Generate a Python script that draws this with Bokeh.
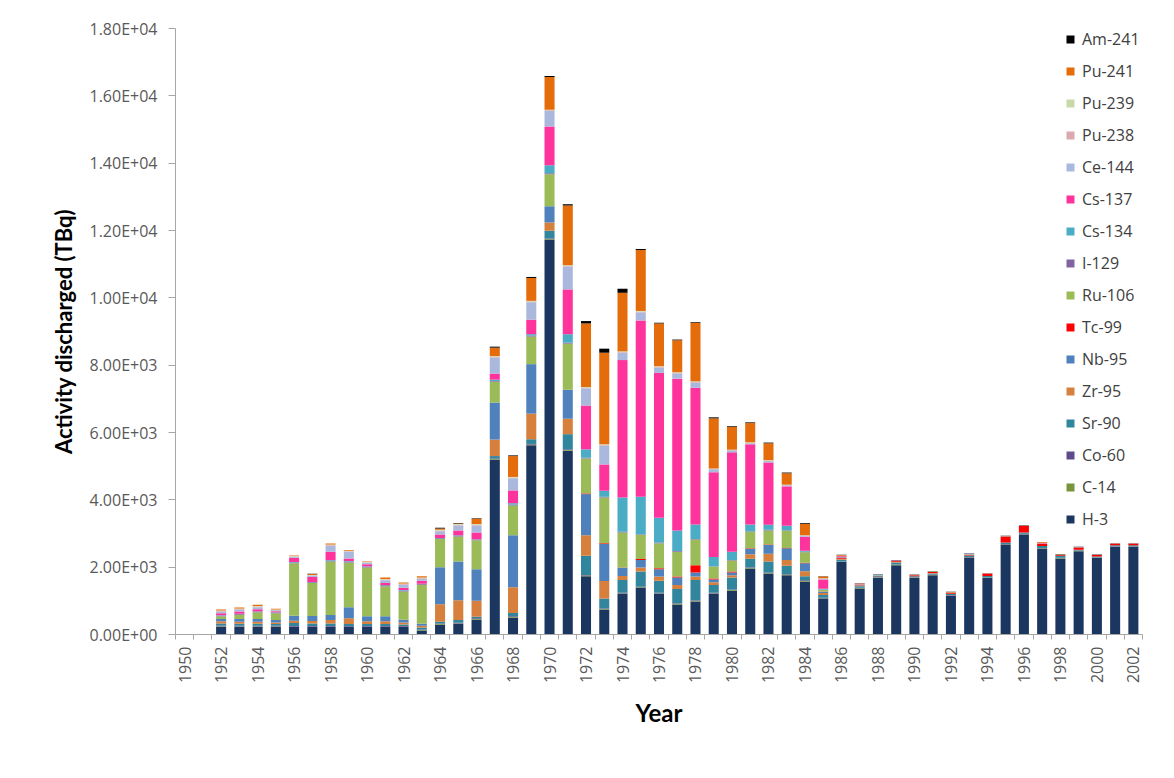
import math
from bokeh.plotting import figure
from bokeh.models import (ColumnDataSource, Range1d, FixedTicker, CustomJSTickFormatter,
                          Legend, LegendItem)
from bokeh.embed import file_html
from bokeh.resources import INLINE

years = list(range(1950, 2003))

H3 = [0, 0, 230, 220, 220, 220, 220, 220, 220, 220, 220, 220, 220, 120, 290, 310, 440,
      5190, 500, 5620, 11720, 5460, 1730, 730, 1200, 1380, 1200, 890, 980,
      1200, 1300, 1960, 1800, 1760, 1570, 1070,
      2150, 1370, 1680, 2060, 1680, 1760, 1150, 2280, 1680, 2670, 2970, 2550, 2260, 2475, 2270, 2600, 2600]
C14 = [0, 0, 15, 15, 15, 15, 10, 10, 10, 10, 10, 10, 10, 10, 20, 20, 20,
       20, 20, 20, 20, 20, 20, 20, 20, 20, 20, 20, 20,
       20, 20, 20, 20, 20, 20, 10,
       10, 10, 10, 10, 10, 10, 10, 10, 10, 10, 10, 10, 10, 10, 10, 10, 10]
Co60 = [0, 0, 25, 25, 25, 25, 20, 20, 20, 20, 20, 20, 20, 20, 20, 20, 20,
        20, 20, 20, 20, 20, 20, 20, 20, 20, 20, 20, 20,
        20, 20, 20, 20, 20, 20, 10,
        10, 10, 10, 10, 10, 10, 10, 10, 10, 10, 10, 10, 10, 10, 10, 10, 10]
Sr90 = [0, 0, 60, 60, 60, 50, 90, 80, 80, 60, 60, 60, 50, 60, 50, 80, 50,
        70, 100, 140, 230, 450, 570, 300, 380, 450, 360, 420, 600,
        230, 350, 250, 330, 240, 120, 80,
        50, 40, 30, 60, 30, 30, 30, 50, 40, 40, 40, 60, 60, 20, 30, 30, 30]
Zr95 = [0, 0, 60, 60, 60, 50, 70, 70, 100, 170, 80, 80, 60, 50, 520, 590, 470,
        490, 760, 760, 250, 460, 610, 520, 120, 120, 120, 120, 100,
        80, 70, 130, 230, 170, 150, 60,
        20, 20, 0, 20, 0, 20, 10, 0, 0, 0, 0, 0, 0, 0, 0, 0, 0]
Nb95 = [0, 0, 70, 80, 80, 70, 150, 150, 150, 330, 150, 150, 80, 60, 1100, 1150, 940,
        1100, 1550, 1470, 480, 860, 1220, 1100, 240, 220, 220, 220, 120,
        80, 80, 170, 260, 350, 240, 40,
        10, 10, 0, 0, 0, 0, 0, 0, 0, 0, 0, 0, 0, 0, 0, 0, 0]
Tc99 = [0, 0, 0, 0, 0, 0, 0, 0, 0, 0, 0, 0, 0, 0, 0, 0, 0,
        0, 0, 0, 0, 0, 20, 20, 10, 30, 30, 30, 220,
        30, 30, 10, 10, 10, 10, 10,
        20, 20, 10, 20, 30, 30, 40, 20, 70, 180, 200, 60, 30, 70, 40, 50, 50]
Ru106 = [0, 0, 80, 130, 200, 200, 1560, 980, 1590, 1330, 1450, 890, 840, 1160, 840, 740, 860,
         620, 880, 820, 950, 1370, 1040, 1360, 1040, 720, 740, 740, 760,
         360, 330, 490, 420, 510, 310, 50,
         20, 10, 10, 10, 10, 10, 10, 10, 10, 10, 10, 10, 10, 10, 10, 10, 10]
I129 = [0, 0, 20, 20, 20, 20, 20, 20, 30, 30, 30, 30, 30, 20, 20, 30, 20,
        20, 30, 30, 30, 30, 20, 20, 20, 20, 20, 20, 20,
        10, 10, 20, 20, 20, 20, 10,
        10, 5, 5, 5, 5, 5, 5, 5, 5, 5, 5, 5, 5, 5, 5, 5, 5]
Cs134 = [0, 0, 10, 10, 10, 10, 10, 10, 10, 10, 10, 10, 10, 10, 10, 10, 10,
         40, 40, 40, 240, 250, 250, 180, 1020, 1110, 740, 610, 430,
         270, 250, 200, 150, 130, 30, 20,
         10, 0, 20, 0, 0, 0, 0, 0, 0, 0, 0, 0, 0, 0, 0, 0, 0]
Cs137 = [0, 0, 60, 60, 60, 30, 130, 150, 250, 80, 60, 60, 70, 90, 100, 140, 200,
         180, 380, 430, 1150, 1330, 1300, 780, 4080, 5240, 4300, 4510, 4060,
         2520, 2950, 2380, 1850, 1170, 410, 270,
         20, 10, 5, 10, 0, 0, 0, 0, 0, 0, 0, 20, 0, 0, 0, 0, 0]
Ce144 = [0, 0, 50, 60, 60, 30, 30, 40, 170, 200, 40, 80, 90, 50, 100, 150, 210,
         480, 360, 520, 460, 680, 510, 560, 220, 240, 160, 150, 150,
         90, 60, 30, 40, 30, 30, 20,
         10, 0, 10, 0, 0, 0, 0, 30, 0, 0, 0, 0, 0, 0, 0, 0, 0]
Pu238 = [0, 0, 20, 20, 20, 10, 10, 10, 20, 10, 10, 20, 20, 20, 20, 20, 20,
         20, 20, 20, 20, 20, 20, 20, 20, 20, 20, 20, 20,
         10, 10, 10, 10, 10, 10, 10,
         0, 0, 0, 0, 0, 0, 0, 0, 0, 0, 0, 0, 0, 0, 0, 0, 0]
Pu239 = [0, 0, 15, 15, 20, 15, 10, 10, 20, 10, 10, 20, 15, 20, 20, 20, 20,
         20, 20, 20, 20, 20, 20, 20, 20, 20, 20, 20, 20,
         10, 10, 20, 20, 10, 10, 10,
         0, 0, 0, 0, 0, 0, 0, 0, 0, 0, 0, 0, 0, 0, 0, 0, 0]
Pu241 = [0, 0, 30, 30, 30, 20, 20, 30, 30, 20, 20, 40, 30, 40, 40, 20, 160,
         250, 620, 680, 970, 1770, 1890, 2720, 1740, 1810, 1270, 950, 1740,
         1490, 680, 570, 500, 340, 340, 50,
         20, 10, 0, 0, 0, 0, 0, 0, 0, 0, 0, 20, 0, 0, 0, 0, 0]
Am241 = [0, 0, 0, 0, 0, 0, 0, 5, 0, 0, 0, 0, 0, 0, 20, 10, 15,
         30, 20, 30, 30, 40, 70, 120, 120, 30, 20, 20, 20,
         30, 20, 20, 20, 20, 20, 10,
         10, 5, 5, 5, 5, 5, 5, 5, 5, 5, 5, 5, 5, 5, 5, 5, 5]

nuclides = ["H-3", "C-14", "Co-60", "Sr-90", "Zr-95", "Nb-95", "Tc-99", "Ru-106",
            "I-129", "Cs-134", "Cs-137", "Ce-144", "Pu-238", "Pu-239", "Pu-241", "Am-241"]
series = [H3, C14, Co60, Sr90, Zr95, Nb95, Tc99, Ru106, I129, Cs134, Cs137, Ce144,
          Pu238, Pu239, Pu241, Am241]
colors = ["#1B365F", "#77933C", "#5F4B8B", "#31859C", "#D7803E", "#4F81BD", "#FF0000",
          "#9BBB59", "#8064A2", "#4BACC6", "#FF339C", "#A9B8DC", "#DDA9B0", "#C8D8A8",
          "#E46C0A", "#000000"]

data = {"year": years}
for n, s in zip(nuclides, series):
    data[n] = s
source = ColumnDataSource(data)

p = figure(width=1170, height=776, output_backend="svg", toolbar_location=None,
           x_range=Range1d(1949.5, 2002.5), y_range=Range1d(0, 18000),
           min_border_left=175, min_border_right=28, min_border_top=28, min_border_bottom=142)
p.outline_line_color = None
p.xgrid.grid_line_color = None
p.ygrid.grid_line_color = None
p.background_fill_color = "white"
p.border_fill_color = "white"

renderers = p.vbar_stack(nuclides, x="year", width=0.55, color=colors, source=source,
                         line_color=None)

tick_font = "Open Sans"
# x axis
xa = p.xaxis[0]
xa.ticker = FixedTicker(ticks=list(range(1950, 2003, 2)),
                        minor_ticks=[y - 0.5 for y in range(1950, 2004)])
xa.major_label_orientation = math.pi / 2
xa.major_tick_line_color = None
xa.major_tick_out = 5
xa.major_tick_in = 0
xa.minor_tick_out = 5
xa.minor_tick_in = 0
xa.minor_tick_line_color = "#A6A6A6"
xa.axis_line_color = "#A6A6A6"
xa.major_label_text_font = tick_font
xa.major_label_text_font_size = "16px"
xa.major_label_text_color = "#595959"
xa.major_label_standoff = 7
xa.axis_label = "Year"
xa.axis_label_text_font = "Lato"
xa.axis_label_text_font_style = "bold"
xa.axis_label_text_font_size = "24px"
xa.axis_label_text_color = "#000000"
xa.axis_label_standoff = 12

# y axis
ya = p.yaxis[0]
ya.ticker = FixedTicker(ticks=list(range(0, 18001, 2000)))
ya.formatter = CustomJSTickFormatter(code="""
    var s = tick.toExponential(2).toUpperCase();
    return s.replace(/E([+-])(\\d)$/, 'E$10$2');
""")
ya.major_tick_out = 7
ya.major_tick_in = 0
ya.minor_tick_line_color = None
ya.major_tick_line_color = "#A6A6A6"
ya.axis_line_color = "#A6A6A6"
ya.major_label_text_font = tick_font
ya.major_label_text_font_size = "16px"
ya.major_label_text_color = "#595959"
ya.major_label_standoff = 11
ya.axis_label = "Activity discharged (TBq)"
ya.axis_label_text_font = "Lato"
ya.axis_label_text_font_style = "bold"
ya.axis_label_text_font_size = "22px"
ya.axis_label_text_color = "#000000"
ya.axis_label_standoff = 10

items = [LegendItem(label=n, renderers=[r]) for n, r in zip(nuclides, renderers)]
items.reverse()
legend = Legend(items=items, location=(890, 104), orientation="vertical",
                glyph_width=10, glyph_height=10, label_height=20, spacing=10,
                padding=0, margin=0, label_standoff=7,
                label_text_font="Open Sans", label_text_font_size="16px",
                label_text_color="#404040",
                border_line_color=None, background_fill_alpha=0)
p.add_layout(legend)

open("out.html", "w").write(file_html(p, INLINE))
